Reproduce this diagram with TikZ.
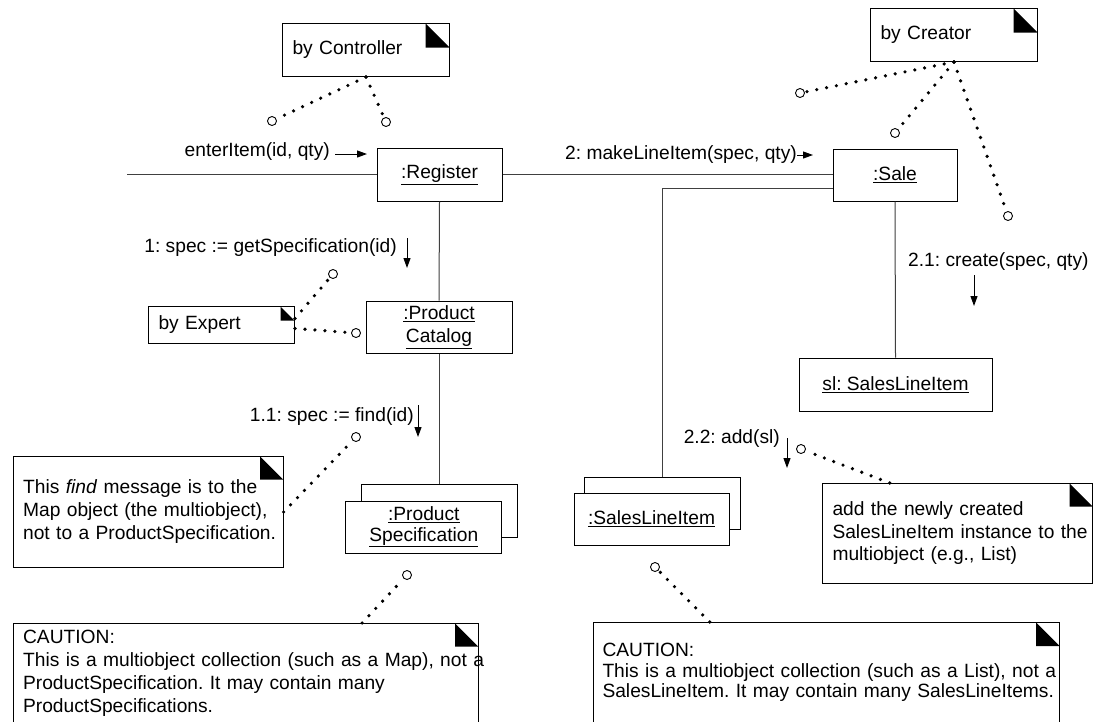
\documentclass[tikz,border=0pt]{standalone}
\usepackage{fontspec}
\setmainfont{Liberation Sans}
\usetikzlibrary{arrows.meta, calc}

\newcommand{\umlfont}{\fontsize{19.2}{23}\selectfont}
\newcommand{\umlfontsp}[1]{\fontsize{19.2}{#1}\selectfont}
\frenchspacing

\begin{document}
\begin{tikzpicture}[x=1pt, y=-1pt,
  >={Triangle[length=10pt, width=7pt]},
  obj/.style={draw, line width=1pt, fill=white, align=center, inner sep=0pt, font=\umlfont},
  note/.style={draw, line width=1pt, fill=white, anchor=north west, align=left,
    inner xsep=10pt, font=\umlfont,
    path picture={\fill[black] ([xshift=-#1]path picture bounding box.north east)
      -- ([yshift=-#1]path picture bounding box.north east)
      -- ([xshift=-#1, yshift=-#1]path picture bounding box.north east) -- cycle;}},
  note/.default=23pt,
  msg/.style={inner sep=0pt, font=\umlfont},
  link/.style={line width=1pt, black!75},
  dotline/.style={line width=3.6pt, line cap=round, dash pattern=on 0pt off 10pt, shorten >=2pt},
  endcirc/.style={circle, draw, line width=0.9pt, fill=white, minimum size=9pt, inner sep=0pt},
]

% Canvas
\fill[white] (0,0) rectangle (1107,721);
\useasboundingbox (0,0) rectangle (1107,721);

% --- Objects ---
\node[obj, minimum width=125pt, minimum height=53pt] (reg) at (439.5,174.5) {\underline{:Register}};
\node[obj, minimum width=124pt, minimum height=52pt] (sale) at (895,175) {\underline{:Sale}};
\node[obj, minimum width=146pt, minimum height=52pt] (cat) at (439,327)
  {\underline{:Product}\\\underline{Catalog}};
\node[obj, minimum width=193pt, minimum height=53pt] (sl) at (895.5,384.5) {\underline{sl: SalesLineItem}};

% multiobjects (back box first)
\node[obj, minimum width=156pt, minimum height=53pt] (specback) at (439,510.5) {};
\node[obj, minimum width=156pt, minimum height=52pt, font=\umlfontsp{20.5}] (spec) at (423.8,527)
  {\underline{:Product}\\\underline{Specification}};
\node[obj, minimum width=156pt, minimum height=52pt] (sliback) at (662,503) {};
\node[obj, minimum width=155pt, minimum height=52pt] (sli) at (651.5,519) {\underline{:SalesLineItem}};

% --- Links ---
\coordinate (in) at (127,174);
\draw[link] (in) -- (in -| reg.west);
\draw[link] (reg.east) -- (reg.east -| sale.west);
\draw[link] ([yshift=-13pt]sale.west) -| (sliback.north);
\draw[link] (reg.south) -- (cat.north);
\draw[link] (cat.south) -- (specback.north);
\draw[link] (sale.south) -- (sl.north);

% --- Messages ---
\node[msg, anchor=east] (m0) at (330,152) {enterItem(id, qty)};
\draw[->, line width=1pt] ([xshift=5pt, yshift=-2pt]m0.east) -- ++(32,0);

\node[msg, anchor=east] (m2) at (797,155) {2: makeLineItem(spec, qty)};
\draw[->, line width=1pt] (m2.east) -- ++(16,0);

\node[msg, anchor=east] (m1) at (397,248) {1: spec := getSpecification(id)};
\draw[->, line width=1pt] ([xshift=10pt, yshift=10pt]m1.east) -- ++(0,30);

\node[msg, anchor=east] (m11) at (414,417) {1.1: spec := find(id)};
\draw[->, line width=1pt] ([xshift=4pt, yshift=12pt]m11.east) -- ++(0,32);

\node[msg, anchor=west] (m21) at (908,262) {2.1: create(spec, qty)};
\draw[->, line width=1pt] ([xshift=66pt, yshift=-13pt]m21.west) -- ++(0,31);

\node[msg, anchor=east] (m22) at (780,439) {2.2: add(sl)};
\draw[->, line width=1pt] ([xshift=7pt, yshift=1pt]m22.east) -- ++(0,30);

% --- Notes ---
\node[note=24pt, text width=147pt, minimum height=53pt] (ctrlnote) at (282,23) {by Controller};
\node[note=24pt, text width=147pt, minimum height=53pt] (creanote) at (870,8) {by Creator};
\node[note=14pt, text width=126pt, minimum height=37pt] (expnote) at (148,306) {by Expert};
\node[note, text width=250pt, minimum height=111pt, font=\umlfontsp{23}] (findnote) at (12.6,456)
  {This \emph{find} message is to the\\Map object (the multiobject),\\\mbox{not to a ProductSpecification.}};
\node[note, text width=250pt, minimum height=100pt, font=\umlfontsp{22.5}] (addnote) at (822,483)
  {add the newly created\\\mbox{SalesLineItem instance to the}\\multiobject (e.g., List)};
\node[note, text width=445pt, inner ysep=7pt, font=\umlfontsp{23}] (caut1) at (12.6,623)
  {CAUTION:\\\mbox{This is a multiobject collection (such as a Map), not a}\\ProductSpecification. It may contain many\\ProductSpecifications.};
\node[note=23.5pt, inner xsep=9pt, text width=448pt, inner ysep=21pt, font=\umlfontsp{20.5}] (caut2) at (593,622)
  {CAUTION:\\\mbox{This is a multiobject collection (such as a List), not a}\\\mbox{SalesLineItem. It may contain many SalesLineItems.}};

% --- Note anchors ---
\node[endcirc] (ctrlA) at (272,121) {};
\node[endcirc] (ctrlB) at (386,122) {};
\node[endcirc] (creA) at (800,93) {};
\node[endcirc] (creB) at (895,133) {};
\node[endcirc] (creC) at (1008,216) {};
\node[endcirc] (expA) at (333,274) {};
\node[endcirc] (expB) at (356,333) {};
\node[endcirc] (findc) at (356,437) {};
\node[endcirc] (specc) at (407,575) {};
\node[endcirc] (addc) at (801,449) {};
\node[endcirc] (slic) at (655,567) {};

\draw[dotline] (ctrlnote.south) -- (ctrlA);
\draw[dotline] (ctrlnote.south) -- (ctrlB);
\draw[dotline] (creanote.south) -- (creA);
\draw[dotline] (creanote.south) -- (creB);
\draw[dotline] (creanote.south) -- (creC);
\draw[dotline] ([yshift=6.5pt]expnote.east) -- (expA);
\draw[dotline] ([yshift=-3.5pt]expnote.east) -- (expB);
\draw[dotline] (findnote.east) -- (findc);
\draw[dotline] ($(caut1.north west)!0.75!(caut1.north east)$) -- (specc);
\draw[dotline] ($(addnote.north west)!0.25!(addnote.north east)$) -- (addc);
\draw[dotline] ($(caut2.north west)!0.25!(caut2.north east)$) -- (slic);

\end{tikzpicture}
\end{document}
